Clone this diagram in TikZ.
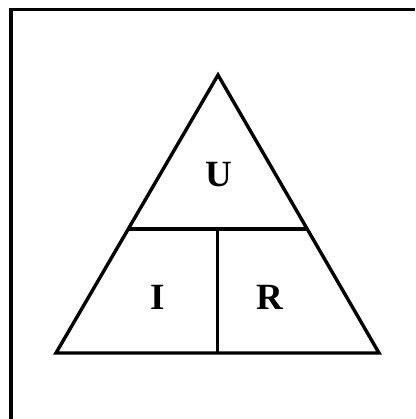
\documentclass[tikz,border=0pt]{standalone}
\usepackage{fontspec}
\setmainfont{Liberation Serif}
\usetikzlibrary{calc}
\begin{document}
\begin{tikzpicture}[x=1pt,y=-1pt,
  edge/.style={line width=3.4pt,line join=miter},
  lbl/.style={font=\fontsize{37}{40}\selectfont\bfseries,inner sep=0pt}]
\useasboundingbox (0,0) rectangle (415,419);
\coordinate (tl) at (11,9.5);
\coordinate (tr) at (415,9.5);
\coordinate (bl) at (11,419);
\draw[edge] (bl) -- (tl) -- (tr);
\coordinate (apex) at (218,75);
\coordinate (bleft) at (56,353);
\coordinate (bright) at (379,353);
\draw[edge] (apex) -- (bright) -- (bleft) -- cycle;
\coordinate (ml) at ($(apex)!0.554!(bleft)$);
\coordinate (mr) at ($(apex)!0.554!(bright)$);
\coordinate (vt) at (217.5,229);
\coordinate (vb) at (217.5,353);
\draw[edge] (ml) -- (mr);
\draw[edge] (vt) -- (vb);
\node[lbl] (u) at (219,175) {U};
\node[lbl] (i) at (157.5,297) {I};
\node[lbl] (r) at (270,297) {R};
\end{tikzpicture}
\end{document}
